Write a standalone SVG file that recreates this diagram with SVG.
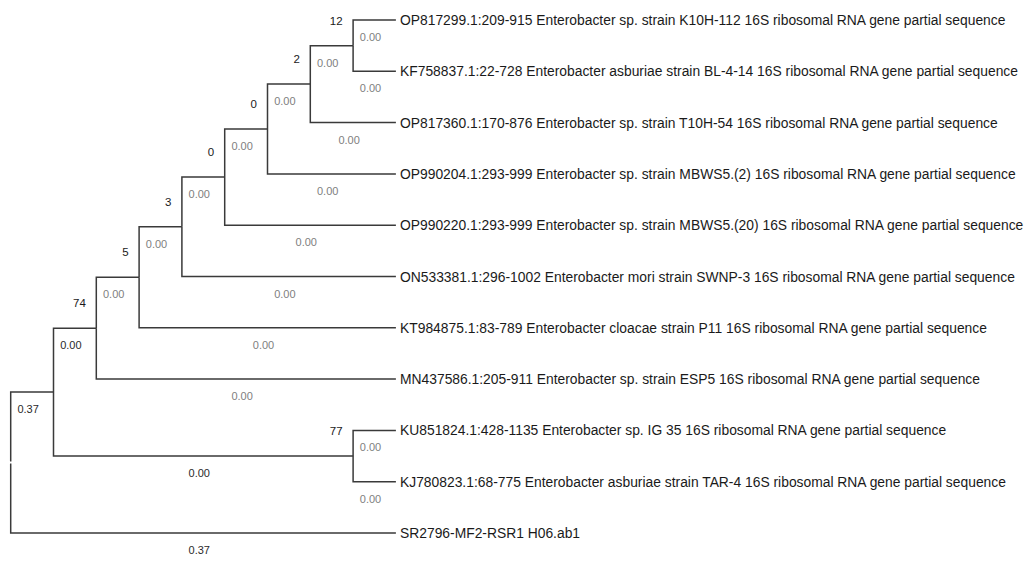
<svg xmlns="http://www.w3.org/2000/svg" width="1029" height="561" viewBox="0 0 1029 561">
<style>
.br{fill:none;stroke:#3a3a3a;stroke-width:1.5;stroke-linecap:butt;stroke-linejoin:miter}
.leaf{font-family:"Liberation Sans",Arial,sans-serif;font-size:13.85px;fill:#1a1a1a}
.bs{font-family:"Liberation Sans",Arial,sans-serif;font-size:11.5px;fill:#1a1a1a;text-anchor:end}
.bl{font-family:"Liberation Sans",Arial,sans-serif;font-size:11px;fill:#808080;text-anchor:middle}
.bk{fill:#2a2a2a}
</style>
<rect x="0" y="0" width="1029" height="561" fill="#ffffff"/>
<g id="connectors">
<path class="br" d="M353.1,45.65 V20 H395.9"/>
<path class="br" d="M353.1,45.65 V71.3 H395.9"/>
<path class="br" d="M310.3,84.1 V45.65 H353.1"/>
<path class="br" d="M310.3,84.1 V122.6 H395.9"/>
<path class="br" d="M267.5,129 V84.1 H310.3"/>
<path class="br" d="M267.5,129 V173.9 H395.9"/>
<path class="br" d="M224.7,177.1 V129 H267.5"/>
<path class="br" d="M224.7,177.1 V225.2 H395.9"/>
<path class="br" d="M181.9,226.8 V177.1 H224.7"/>
<path class="br" d="M181.9,226.8 V276.5 H395.9"/>
<path class="br" d="M139.1,277.3 V226.8 H181.9"/>
<path class="br" d="M139.1,277.3 V327.8 H395.9"/>
<path class="br" d="M96.3,328.2 V277.3 H139.1"/>
<path class="br" d="M96.3,328.2 V379.1 H395.9"/>
<path class="br" d="M353.1,456.05 V430.4 H395.9"/>
<path class="br" d="M353.1,456.05 V481.7 H395.9"/>
<path class="br" d="M53.5,392.1 V328.2 H96.3"/>
<path class="br" d="M53.5,392.1 V456.05 H353.1"/>
<path class="br" d="M10.7,461.5 V392.1 H53.5"/>
<path class="br" d="M10.7,463.6 V533 H395.9"/>
</g>
<g id="branch-lengths">
<text class="bl" x="370.5" y="41">0.00</text>
<text class="bl" x="370.5" y="92.3">0.00</text>
<text class="bl" x="327.7" y="66.6">0.00</text>
<text class="bl" x="349.1" y="143.6">0.00</text>
<text class="bl" x="284.9" y="105.1">0.00</text>
<text class="bl" x="327.7" y="194.9">0.00</text>
<text class="bl" x="242.1" y="150">0.00</text>
<text class="bl" x="306.3" y="246.2">0.00</text>
<text class="bl" x="199.3" y="198.1">0.00</text>
<text class="bl" x="284.9" y="297.5">0.00</text>
<text class="bl" x="156.5" y="247.8">0.00</text>
<text class="bl" x="263.5" y="348.8">0.00</text>
<text class="bl" x="113.7" y="298.3">0.00</text>
<text class="bl" x="242.1" y="400.1">0.00</text>
<text class="bl bk" x="70.9" y="349.2">0.00</text>
<text class="bl" x="370.5" y="451.4">0.00</text>
<text class="bl" x="370.5" y="502.7">0.00</text>
<text class="bl bk" x="199.3" y="477">0.00</text>
<text class="bl bk" x="28.1" y="413.1">0.37</text>
<text class="bl bk" x="199.3" y="554">0.37</text>
</g>
<g id="node-12"><text class="bs" x="342.6" y="24.6">12</text></g>
<g id="node-2"><text class="bs" x="299.8" y="63.1">2</text></g>
<g id="node-0a"><text class="bs" x="257" y="108">0</text></g>
<g id="node-0b"><text class="bs" x="214.2" y="156.1">0</text></g>
<g id="node-3"><text class="bs" x="171.4" y="205.8">3</text></g>
<g id="node-5"><text class="bs" x="128.6" y="256.3">5</text></g>
<g id="node-74"><text class="bs" x="85.8" y="307.2">74</text></g>
<g id="node-77"><text class="bs" x="342.6" y="435">77</text></g>
<g id="node-inner"></g>
<g id="node-root"></g>
<g id="leaf-1"><text class="leaf" x="400" y="25">OP817299.1:209-915 Enterobacter sp. strain K10H-112 16S ribosomal RNA gene partial sequence</text></g>
<g id="leaf-2"><text class="leaf" x="400" y="76.3">KF758837.1:22-728 Enterobacter asburiae strain BL-4-14 16S ribosomal RNA gene partial sequence</text></g>
<g id="leaf-3"><text class="leaf" x="400" y="127.6">OP817360.1:170-876 Enterobacter sp. strain T10H-54 16S ribosomal RNA gene partial sequence</text></g>
<g id="leaf-4"><text class="leaf" x="400" y="178.9">OP990204.1:293-999 Enterobacter sp. strain MBWS5.(2) 16S ribosomal RNA gene partial sequence</text></g>
<g id="leaf-5"><text class="leaf" x="400" y="230.2">OP990220.1:293-999 Enterobacter sp. strain MBWS5.(20) 16S ribosomal RNA gene partial sequence</text></g>
<g id="leaf-6"><text class="leaf" x="400" y="281.5">ON533381.1:296-1002 Enterobacter mori strain SWNP-3 16S ribosomal RNA gene partial sequence</text></g>
<g id="leaf-7"><text class="leaf" x="400" y="332.8">KT984875.1:83-789 Enterobacter cloacae strain P11 16S ribosomal RNA gene partial sequence</text></g>
<g id="leaf-8"><text class="leaf" x="400" y="384.1">MN437586.1:205-911 Enterobacter sp. strain ESP5 16S ribosomal RNA gene partial sequence</text></g>
<g id="leaf-9"><text class="leaf" x="400" y="435.4">KU851824.1:428-1135 Enterobacter sp. IG 35 16S ribosomal RNA gene partial sequence</text></g>
<g id="leaf-10"><text class="leaf" x="400" y="486.7">KJ780823.1:68-775 Enterobacter asburiae strain TAR-4 16S ribosomal RNA gene partial sequence</text></g>
<g id="leaf-11"><text class="leaf" x="400" y="538">SR2796-MF2-RSR1 H06.ab1</text></g>
</svg>
